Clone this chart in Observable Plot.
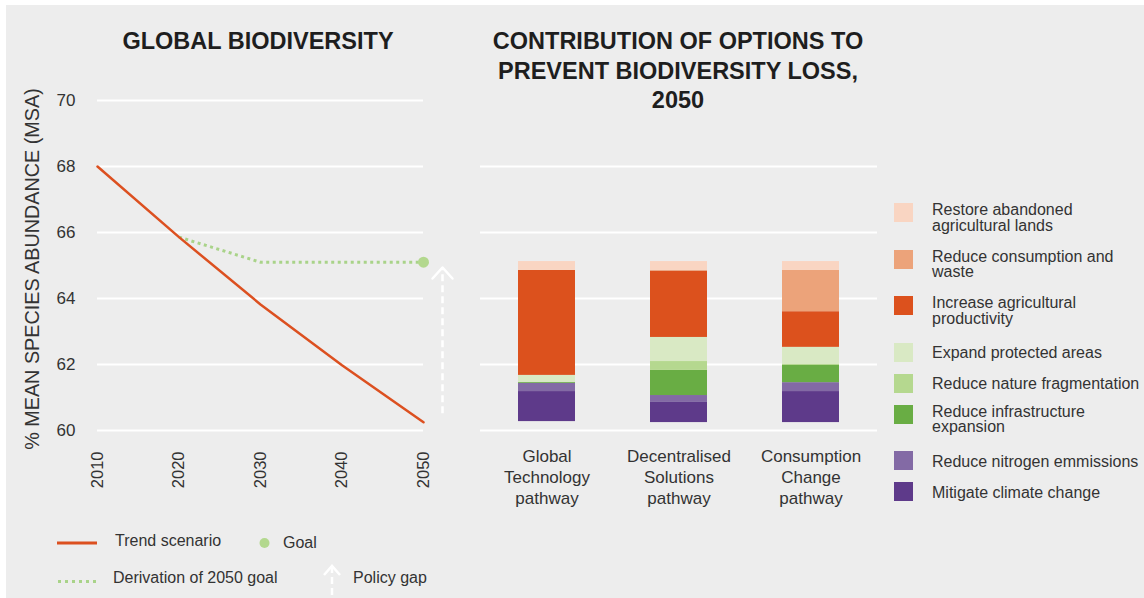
<!DOCTYPE html>
<html>
<head>
<meta charset="utf-8">
<script src="https://cdn.jsdelivr.net/npm/d3@7"></script>
<script src="https://cdn.jsdelivr.net/npm/@observablehq/plot@0.6"></script>
<style>
  html, body { margin: 0; padding: 0; background: #fff; }
  #root { position: relative; width: 1144px; height: 598px; overflow: hidden; font-family: "Liberation Sans", Arial, sans-serif; color: #333; }
  #panel { position: absolute; left: 6px; top: 5px; right: 0; bottom: 0; background: #ededed; }
  .abs { position: absolute; }
  .title { position: absolute; font-weight: bold; font-size: 23.5px; line-height: 29.5px; color: #1e1e1e; text-align: center; }
  .lg { position: absolute; font-size: 16px; line-height: 15.5px; color: #333; white-space: nowrap; }
  .bl { position: absolute; font-size: 16px; line-height: 18px; color: #333; white-space: nowrap; }
  svg { overflow: visible; }
</style>
</head>
<body>
<div id="root"><div id="panel"></div></div>
<script>
// ---------- DATA ----------
const trendYears = [2010, 2020, 2030, 2040, 2050];
const trendValues = [68.0, 65.86, 63.82, 61.98, 60.25];
const goalYears = [2020, 2030, 2050];
const goalValues = [65.86, 65.1, 65.1];
const goalPoint = {year: 2050, value: 65.1};
const policyGap = {year: 2050, from: 60.52, to: 64.94};
const yearTicks = [2010, 2020, 2030, 2040, 2050];
const leftYTicks = [60, 62, 64, 66, 68, 70];
const rightYTicks = [60, 62, 64, 66, 68];

const pathways = ["Global\nTechnology\npathway", "Decentralised\nSolutions\npathway", "Consumption\nChange\npathway"];
const pathwayBase = [60.27, 60.24, 60.24];
// stacking order bottom -> top
const options = [
  "Mitigate climate change",
  "Reduce nitrogen emmissions",
  "Reduce infrastructure expansion",
  "Reduce nature fragmentation",
  "Expand protected areas",
  "Increase agricultural productivity",
  "Reduce consumption and waste",
  "Restore abandoned agricultural lands"
];
const optionColors = ["#5e3a8a", "#836aa5", "#69ad44", "#b5d88f", "#d9e9c4", "#dc511d", "#eca37a", "#f9d5c2"];
const globalTechnology = [0.91, 0.25, 0.03, 0.00, 0.21, 3.18, 0.00, 0.27];
const decentralisedSolutions = [0.61, 0.21, 0.76, 0.27, 0.73, 2.01, 0.02, 0.27];
const consumptionChange = [0.94, 0.27, 0.52, 0.03, 0.52, 1.08, 1.25, 0.27];
const legendLabels = {
  "Restore abandoned agricultural lands": "Restore abandoned\nagricultural lands",
  "Reduce consumption and waste": "Reduce consumption and\nwaste",
  "Increase agricultural productivity": "Increase agricultural\nproductivity",
  "Expand protected areas": "Expand protected areas",
  "Reduce nature fragmentation": "Reduce nature fragmentation",
  "Reduce infrastructure expansion": "Reduce infrastructure\nexpansion",
  "Reduce nitrogen emmissions": "Reduce nitrogen emmissions",
  "Mitigate climate change": "Mitigate climate change"
};

// ---------- TABLES ----------
const trend = trendYears.map((year, i) => ({year, value: trendValues[i]}));
const goal = goalYears.map((year, i) => ({year, value: goalValues[i]}));
const series = [globalTechnology, decentralisedSolutions, consumptionChange];
const rows = [];
pathways.forEach((p, pi) => {
  let acc = pathwayBase[pi];
  options.forEach((o, oi) => {
    const v = series[pi][oi];
    rows.push({pathway: p, option: o, y1: acc, y2: acc + v});
    acc += v;
  });
});

const ORANGE = "#dc5020";
const GREEN = "#a9d389";
const FONT = "'Liberation Sans', Arial, sans-serif";
const root = document.getElementById("root");

// chevron arrow-head shape for the policy-gap arrow
const chevron = {
  draw(context) {
    context.moveTo(-10, 11);
    context.lineTo(0, 0);
    context.lineTo(10, 11);
  }
};

// ---------- LEFT CHART ----------
const left = Plot.plot({
  width: 460, height: 510,
  marginLeft: 97, marginRight: 37, marginTop: 100, marginBottom: 80,
  style: {background: "transparent", fontFamily: FONT, color: "#333", overflow: "visible"},
  x: {domain: [2010, 2050]},
  y: {domain: [60, 70]},
  marks: [
    Plot.gridY(leftYTicks, {stroke: "#fff", strokeOpacity: 1, strokeWidth: 2.2}),
    Plot.axisY(leftYTicks, {tickSize: 0, tickPadding: 22, label: null, fontSize: 17}),
    Plot.axisX(yearTicks, {tickSize: 0, tickPadding: 21, tickRotate: -90, label: null, fontSize: 16.5, tickFormat: d => String(d)}),
    Plot.line(goal, {x: "year", y: "value", stroke: GREEN, strokeWidth: 3, strokeDasharray: "3,3.5", strokeLinecap: "butt"}),
    Plot.line(trend, {x: "year", y: "value", stroke: ORANGE, strokeWidth: 2.5}),
    Plot.dot([goalPoint], {x: "year", y: "value", r: 5.5, fill: "#b3d88e"}),
    Plot.link([policyGap], {x1: "year", x2: "year", y1: "from", y2: "to", dx: 19, stroke: "#fff", strokeWidth: 2.5, strokeDasharray: "7,4"}),
    Plot.vector([policyGap], {x: "year", y: "to", dx: 19, length: 1, anchor: "start", shape: chevron, stroke: "#fff", strokeWidth: 2.5, fill: "none"})
  ]
});
left.style.position = "absolute"; left.style.left = "0px"; left.style.top = "0px";
root.appendChild(left);

// ---------- RIGHT CHART ----------
const right = Plot.plot({
  width: 430, height: 510,
  marginLeft: 20, marginRight: 13, marginTop: 100, marginBottom: 80,
  style: {background: "transparent", fontFamily: FONT, color: "#333", overflow: "visible"},
  x: {domain: pathways, paddingInner: 0.57, paddingOuter: 0.285},
  y: {domain: [60, 70], axis: null},
  color: {domain: options, range: optionColors},
  marks: [
    Plot.gridY(rightYTicks, {stroke: "#fff", strokeOpacity: 1, strokeWidth: 2.2}),
    Plot.barY(rows, {x: "pathway", y1: "y1", y2: "y2", fill: "option"}),
    Plot.axisX({tickSize: 0, tickPadding: 17, label: null, fontSize: 17, lineHeight: 1.22})
  ]
});
right.style.position = "absolute"; right.style.left = "460px"; right.style.top = "0px";
root.appendChild(right);

// ---------- TITLES ----------
function addTitle(text, cx, y, w) {
  const d = document.createElement("div");
  d.className = "title";
  d.style.left = (cx - w / 2) + "px"; d.style.top = y + "px"; d.style.width = w + "px";
  d.innerHTML = text;
  root.appendChild(d);
}
addTitle("GLOBAL BIODIVERSITY", 258, 27, 400);
addTitle("CONTRIBUTION OF OPTIONS TO<br>PREVENT BIODIVERSITY LOSS,<br>2050", 678, 27, 440);

// y label
const yl = document.createElement("div");
yl.style.cssText = "position:absolute;width:420px;left:" + (32 - 210) + "px;top:" + (269 - 11) + "px;height:22px;line-height:22px;text-align:center;font-size:19.8px;color:#333;transform:rotate(-90deg);white-space:nowrap;";
yl.textContent = "% MEAN SPECIES ABUNDANCE (MSA)";
root.appendChild(yl);

// ---------- RIGHT LEGEND ----------
const legendOrder = options.slice().reverse();
let legendTop = 203;
legendOrder.forEach((o) => {
  const label = legendLabels[o];
  const lines = label.split("\n").length;
  const sw = document.createElement("div");
  sw.className = "abs";
  sw.style.cssText = `left:894px;top:${legendTop}px;width:19px;height:19px;background:${optionColors[options.indexOf(o)]};`;
  root.appendChild(sw);
  const t = document.createElement("div");
  t.className = "lg";
  t.style.left = "932px";
  t.style.top = (lines === 1 ? legendTop + 2.5 : legendTop - 1) + "px";
  t.innerHTML = label.replace("\n", "<br>");
  root.appendChild(t);
  legendTop += lines === 1 ? 31 : 46.5;
});

// ---------- BOTTOM LEGEND ----------
const ns = "http://www.w3.org/2000/svg";
const lsvg = document.createElementNS(ns, "svg");
lsvg.setAttribute("width", 1144); lsvg.setAttribute("height", 598);
lsvg.style.cssText = "position:absolute;left:0;top:0;pointer-events:none;";
lsvg.innerHTML = `
  <line x1="57" x2="97" y1="543" y2="543" stroke="${ORANGE}" stroke-width="3"/>
  <circle cx="264.5" cy="543" r="5" fill="#b3d88e"/>
  <line x1="58" x2="97" y1="581.5" y2="581.5" stroke="${GREEN}" stroke-width="3" stroke-dasharray="3,4"/>
  <line x1="332" x2="332" y1="566" y2="600" stroke="#fff" stroke-width="2.5" stroke-dasharray="7,4"/>
  <polyline points="324,575 332,566 340,575" fill="none" stroke="#fff" stroke-width="2.5"/>
`;
root.appendChild(lsvg);
function addBL(text, x, cy) {
  const d = document.createElement("div");
  d.className = "bl"; d.style.left = x + "px"; d.style.top = (cy - 9) + "px";
  d.textContent = text; root.appendChild(d);
}
addBL("Trend scenario", 115, 541);
addBL("Goal", 283, 543);
addBL("Derivation of 2050 goal", 113, 578);
addBL("Policy gap", 353, 578);
</script>
</body>
</html>
